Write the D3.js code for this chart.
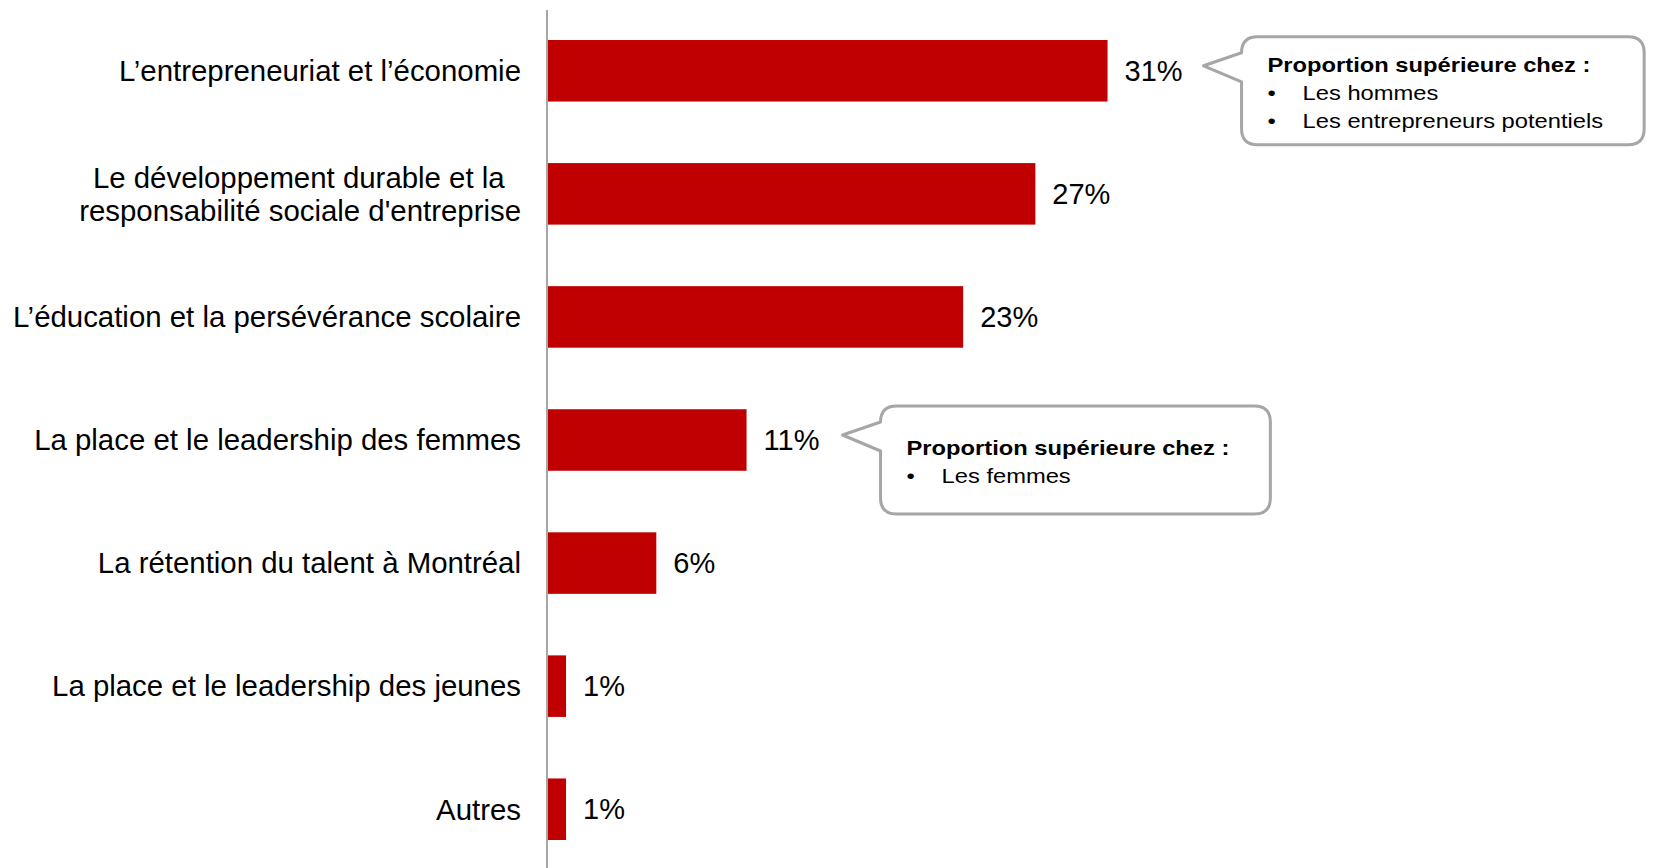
<!DOCTYPE html>
<html lang="fr">
<head>
<meta charset="UTF-8">
<script src="https://d3js.org/d3.v7.min.js"></script>
<title>Thèmes</title>
<style>
    body { margin: 0; background: #fff; }
    svg { display: block; font-family: "Liberation Sans", Arial, sans-serif; }
    .cat { font-size: 29.4px; fill: #000; white-space: pre; }
    .val { font-size: 29px; fill: #000; }
    .note { font-size: 21px; fill: #000; }
</style>
</head>
<body>
<div id="chart"></div>
<script>
    const categories = [
        ["L’entrepreneuriat et l’économie"],
        ["Le développement durable et la  ", "responsabilité sociale d'entreprise"],
        ["L’éducation et la persévérance scolaire"],
        ["La place et le leadership des femmes"],
        ["La rétention du talent à Montréal"],
        ["La place et le leadership des jeunes"],
        ["Autres"]
    ];
    const values = [31, 27, 23, 11, 6, 1, 1];
    const valueLabels = ["31%", "27%", "23%", "11%", "6%", "1%", "1%"];

    const noteTitle = "Proportion supérieure chez :";
    const noteBars = [0, 3];
    const noteItems = [
        ["Les hommes", "Les entrepreneurs potentiels"],
        ["Les femmes"]
    ];

    const width = 1653, height = 868;
    const axisX = 548;
    const red = "#c00000";
    const grey = "#a6a6a6";

    const svg = d3.select("#chart").append("svg")
        .attr("width", width)
        .attr("height", height);

    const rows = d3.range(values.length);

    const x = d3.scaleLinear()
        .domain([0, 31])
        .range([axisX, axisX + 31 * 18.05]);

    const y = d3.scaleBand()
        .domain(rows)
        .range([40, 840])
        .paddingInner(0.5)
        .paddingOuter(0);

    // bars
    svg.selectAll("rect.bar")
        .data(rows)
        .join("rect")
        .attr("class", "bar")
        .attr("x", x(0))
        .attr("y", i => y(i))
        .attr("width", i => x(values[i]) - x(0))
        .attr("height", y.bandwidth())
        .attr("fill", red);

    // vertical axis line
    svg.append("line")
        .attr("x1", axisX - 1).attr("x2", axisX - 1)
        .attr("y1", 10).attr("y2", height)
        .attr("stroke", grey)
        .attr("stroke-width", 2);

    // category labels
    const lineH = 33;
    svg.selectAll("text.cat")
        .data(rows)
        .join("text")
        .attr("class", "cat")
        .attr("text-anchor", "end")
        .attr("x", 521)
        .attr("y", i => y(i) + y.bandwidth() / 2 - (categories[i].length - 1) * lineH / 2)
        .each(function (i) {
            const t = d3.select(this);
            categories[i].forEach((line, k) => {
                t.append("tspan")
                    .attr("x", 521)
                    .attr("dy", k === 0 ? "0.35em" : lineH)
                    .text(line);
            });
        });

    // value labels
    svg.selectAll("text.val")
        .data(rows)
        .join("text")
        .attr("class", "val")
        .attr("x", i => x(values[i]) + 17)
        .attr("y", i => y(i) + y.bandwidth() / 2)
        .attr("dy", "0.35em")
        .text(i => valueLabels[i]);

    // speech bubbles
    const stretch = 1.13;
    noteBars.forEach((bar, n) => {
        const cy = y(bar) + y.bandwidth() / 2;
        const labelEnd = x(values[bar]) + 17 + 29 * 2.0;
        const tipX = labelEnd + 21;
        const left = tipX + 38;
        const top = cy - 34;
        const h = 108;
        const r = 16;

        const g = svg.append("g");
        const path = g.append("path");

        const lines = [noteTitle].concat(noteItems[n]);
        const firstBase = top + h / 2 - (lines.length - 1) * 28 / 2 + 9;
        const tg = g.append("g")
            .attr("transform", `translate(${left + 26},0) scale(${stretch},1)`);

        let maxW = 0;
        lines.forEach((line, k) => {
            const by = firstBase + k * 28;
            if (k === 0) {
                const t = tg.append("text").attr("class", "note")
                    .attr("x", 0).attr("y", by)
                    .attr("font-weight", "bold")
                    .text(line);
                maxW = Math.max(maxW, t.node().getComputedTextLength() * stretch);
            } else {
                tg.append("text").attr("class", "note")
                    .attr("x", 0).attr("y", by).text("•");
                const t = tg.append("text").attr("class", "note")
                    .attr("x", 31).attr("y", by).text(line);
                maxW = Math.max(maxW, (31 + t.node().getComputedTextLength()) * stretch);
            }
        });

        const right = left + 26 + maxW + 41;
        const bottom = top + h;
        const p = d3.path();
        p.moveTo(left + r, top);
        p.lineTo(right - r, top);
        p.quadraticCurveTo(right, top, right, top + r);
        p.lineTo(right, bottom - r);
        p.quadraticCurveTo(right, bottom, right - r, bottom);
        p.lineTo(left + r, bottom);
        p.quadraticCurveTo(left, bottom, left, bottom - r);
        p.lineTo(left, top + 45);
        p.lineTo(tipX, top + 29);
        p.lineTo(left, top + r);
        p.quadraticCurveTo(left, top, left + r, top);
        p.closePath();

        path.attr("d", p.toString())
            .attr("fill", "#fff")
            .attr("stroke", grey)
            .attr("stroke-width", 3)
            .attr("stroke-linejoin", "round");
    });
</script>
</body>
</html>
